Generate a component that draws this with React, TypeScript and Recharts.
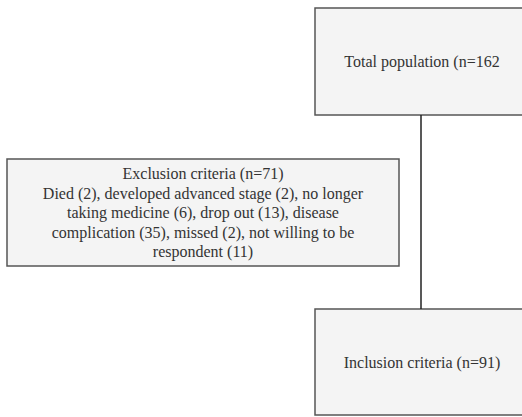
import { ComposedChart, ReferenceArea, ReferenceLine, XAxis, YAxis } from "recharts";

// flow diagram drawn in a 522 x 417 unit layout space
const boxIds = ["total", "exclusion", "inclusion"];
const boxText = [
  ["Total population (n=162"],
  [
    "Exclusion criteria (n=71)",
    "Died (2), developed advanced stage (2), no longer",
    "taking medicine (6), drop out (13), disease",
    "complication (35), missed (2), not willing to be",
    "respondent (11)",
  ],
  ["Inclusion criteria (n=91)"],
];
const boxLeft = [315, 7, 315];
const boxRight = [529, 399, 529];
const boxTop = [8, 159, 309];
const boxBottom = [115, 266, 415];

const connectorFrom = "total";
const connectorTo = "inclusion";

const W = 522;
const H = 417;
const LINE_H = 19.5;

function BoxLabel(props: any) {
  const { viewBox, lines } = props;
  if (!viewBox) return null;
  const cx = viewBox.x + viewBox.width / 2;
  const cy = viewBox.y + viewBox.height / 2;
  const start = cy - ((lines.length - 1) * LINE_H) / 2;
  return (
    <text
      textAnchor="middle"
      fill="#333"
      fontSize={16}
      fontFamily="'Liberation Serif', 'DejaVu Serif', serif"
    >
      {lines.map((l: string, i: number) => (
        <tspan key={i} x={cx} y={start + i * LINE_H} dominantBaseline="central">
          {l}
        </tspan>
      ))}
    </text>
  );
}

export default function App() {
  const a = boxIds.indexOf(connectorFrom);
  const b = boxIds.indexOf(connectorTo);
  const lineX = (boxLeft[a] + boxRight[a]) / 2 - 1;
  return (
    <div style={{ position: "fixed", left: 0, top: 0, width: W, height: H, background: "#fff" }}>
      <ComposedChart width={W} height={H} margin={{ top: 0, right: 0, bottom: 0, left: 0 }} data={[]}>
        <XAxis type="number" dataKey="x" domain={[0, W]} allowDataOverflow hide />
        <YAxis type="number" dataKey="y" domain={[0, H]} reversed allowDataOverflow hide width={0} />
        <ReferenceLine
          segment={[
            { x: lineX, y: boxBottom[a] },
            { x: lineX, y: boxTop[b] },
          ]}
          stroke="#222"
          strokeWidth={1.5}
          ifOverflow="visible"
        />
        {boxIds.map((id, i) => (
          <ReferenceArea
            key={id}
            x1={boxLeft[i]}
            x2={boxRight[i]}
            y1={boxTop[i]}
            y2={boxBottom[i]}
            fill="#f4f4f4"
            fillOpacity={1}
            stroke="#555"
            strokeWidth={1.5}
            ifOverflow="hidden"
            label={<BoxLabel lines={boxText[i]} />}
          />
        ))}
      </ComposedChart>
    </div>
  );
}
